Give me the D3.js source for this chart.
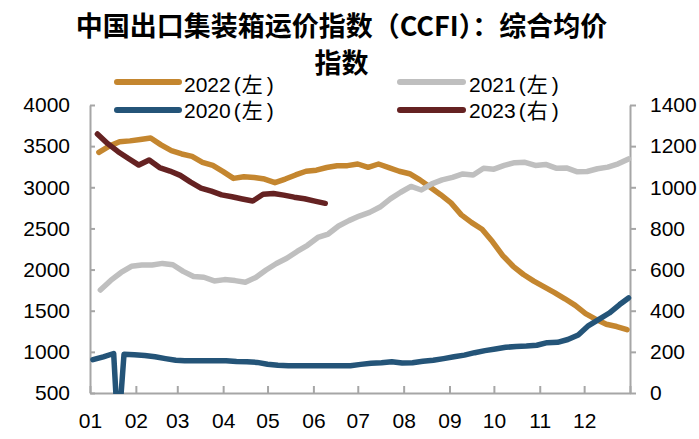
<!DOCTYPE html>
<html><head><meta charset="utf-8">
<script src="https://cdn.jsdelivr.net/npm/d3@7"></script>
<style>
html,body{margin:0;padding:0;background:#fff;}
svg{display:block;}
</style>
</head><body>
<svg id="chart" width="699" height="439"></svg>
<script>
// ---- data ----
const titleLines = ["中国出口集装箱运价指数（CCFI）：综合均价", "指数"];
const monthLabels = ["01","02","03","04","05","06","07","08","09","10","11","12"];
const leftTicks = [500,1000,1500,2000,2500,3000,3500,4000];
const rightTicks = [0,200,400,600,800,1000,1200,1400];
const seriesNames = ["2022", "2021", "2020", "2023"];
const seriesAxisLabels = ["左", "左", "左", "右"];
const seriesColors = ["#C4862F", "#BFBFBF", "#245478", "#652222"];

// weekly values (CCFI, published Fridays)
const start2022 = "2022-01-07";
const values2022 = [3425,3500,3554,3564,3581,3598,3515,3445,3405,3375,3303,3265,3190,3108,3128,3120,3100,3056,3100,3150,3195,3208,3240,3262,3263,3283,3243,3283,3240,3195,3165,3090,3000,2910,2810,2665,2570,2490,2340,2170,2040,1940,1860,1790,1720,1645,1565,1465,1395,1335,1308,1270];
const start2021 = "2021-01-08";
const values2021 = [1752,1868,1965,2040,2055,2056,2075,2058,1978,1915,1907,1862,1878,1866,1847,1905,1995,2074,2137,2220,2295,2390,2432,2530,2595,2650,2695,2760,2860,2940,3010,2967,3042,3090,3120,3162,3150,3231,3220,3266,3299,3304,3266,3278,3232,3235,3190,3192,3225,3245,3285,3345];
const start2020 = "2020-01-03";
const values2020 = [905,940,980,972,965,955,940,918,898,893,893,893,893,893,884,880,872,850,836,832,832,832,832,832,832,832,848,862,868,880,865,868,885,898,918,940,960,990,1015,1035,1055,1066,1070,1080,1112,1116,1150,1205,1320,1395,1472,1575];
const extra2020 = [["2020-01-20", 0], ["2020-12-31", 1655]];
const start2023 = "2023-01-06";
const values2023 = [1259,1212,1173,1140,1108,1133,1096,1079,1058,1025,996,981,963,954,943,933,966,970,962,952,944,933,922];

// ---- build ----
const parse = d3.timeParse("%Y-%m-%d");
const toRefYear = d => new Date(2021, d.getMonth(), d.getDate());
function weekly(startStr, vals) {
  const s = parse(startStr);
  return vals.map((v, i) => ({date: d3.timeDay.offset(s, 7 * i), value: v}));
}
const s2020 = weekly(start2020, values2020)
  .concat(extra2020.map(([d, v]) => ({date: parse(d), value: v})))
  .sort((a, b) => a.date - b.date);
const series = [
  {data: weekly(start2022, values2022), axis: "L"},
  {data: weekly(start2021, values2021), axis: "L"},
  {data: s2020, axis: "L"},
  {data: weekly(start2023, values2023), axis: "R"}
];

const svg = d3.select("#chart");
const X0 = 90, X1 = 630, Y0 = 105, Y1 = 393;
const x = d3.scaleTime().domain([new Date(2021,0,1), new Date(2022,0,1)]).range([X0, X1]);
const yL = d3.scaleLinear().domain([500, 4000]).range([Y1, Y0]);
const yR = d3.scaleLinear().domain([0, 1400]).range([Y1, Y0]);

const axisColor = "#A6A6A6";
const tickFont = "'Liberation Sans', Arial, sans-serif";

// Title
const TX = 341.5;
const title = svg.append("text")
  .attr("x", TX).attr("text-anchor", "middle")
  .attr("font-family", "'Noto Sans CJK SC', sans-serif")
  .attr("font-weight", "bold").attr("font-size", 27).attr("fill", "#000");
titleLines.forEach((t, i) => title.append("tspan").attr("x", TX).attr("y", 36 + i * 37).text(t));

// Axes
function styleAxis(g) {
  g.select(".domain").attr("stroke", axisColor).attr("stroke-width", 2);
  g.selectAll(".tick line").attr("stroke", axisColor).attr("stroke-width", 2);
  g.selectAll(".tick text").attr("fill", "#000").attr("font-size", 21).attr("font-family", tickFont);
}
const monthTicks = d3.timeMonth.range(new Date(2021,0,1), new Date(2022,0,2));
svg.append("g").attr("transform", `translate(0,${Y1})`)
  .call(d3.axisBottom(x).tickValues(monthTicks).tickSizeInner(-7).tickSizeOuter(0).tickPadding(20)
    .tickFormat((d, i) => monthLabels[i] || ""))
  .call(styleAxis);
svg.append("g").attr("transform", `translate(${X0},0)`)
  .call(d3.axisLeft(yL).tickValues(leftTicks).tickSizeInner(-5).tickSizeOuter(0).tickPadding(20).tickFormat(d3.format("d")))
  .call(styleAxis);
svg.append("g").attr("transform", `translate(${X1},0)`)
  .call(d3.axisRight(yR).tickValues(rightTicks).tickSizeInner(6).tickSizeOuter(0).tickPadding(14).tickFormat(d3.format("d")))
  .call(styleAxis);

// Clip
svg.append("clipPath").attr("id", "plotclip").append("rect")
  .attr("x", X0 - 10).attr("y", 0).attr("width", X1 - X0 + 20).attr("height", Y1 + 1);

// Lines
const plot = svg.append("g").attr("clip-path", "url(#plotclip)");
series.forEach((s, i) => {
  const y = s.axis === "L" ? yL : yR;
  const line = d3.line().x(d => x(toRefYear(d.date))).y(d => y(d.value));
  plot.append("path").datum(s.data)
    .attr("d", line).attr("fill", "none")
    .attr("stroke", seriesColors[i]).attr("stroke-width", 5.5)
    .attr("stroke-linejoin", "round").attr("stroke-linecap", "round");
});

// Legend
const legendPos = [
  {x1: 117, x2: 179, ly: 82, tx: 184, ty: 92},
  {x1: 400, x2: 463, ly: 82, tx: 469, ty: 92},
  {x1: 117, x2: 179, ly: 110, tx: 184, ty: 118},
  {x1: 400, x2: 463, ly: 110, tx: 469, ty: 118}
];
seriesNames.forEach((n, i) => {
  const p = legendPos[i];
  svg.append("line").attr("x1", p.x1).attr("x2", p.x2).attr("y1", p.ly).attr("y2", p.ly)
    .attr("stroke", seriesColors[i]).attr("stroke-width", 6).attr("stroke-linecap", "round");
  const t = svg.append("text").attr("x", p.tx).attr("y", p.ty)
    .attr("font-family", "'Liberation Sans', 'Noto Sans CJK SC', sans-serif")
    .attr("font-size", 21).attr("fill", "#000");
  t.append("tspan").text(n);
  t.append("tspan").attr("dx", 3).text("(");
  t.append("tspan").attr("dx", 1).attr("font-family", "'Noto Sans CJK SC', sans-serif").text(seriesAxisLabels[i]);
  t.append("tspan").attr("dx", 4).text(")");
});
</script>
</body></html>
